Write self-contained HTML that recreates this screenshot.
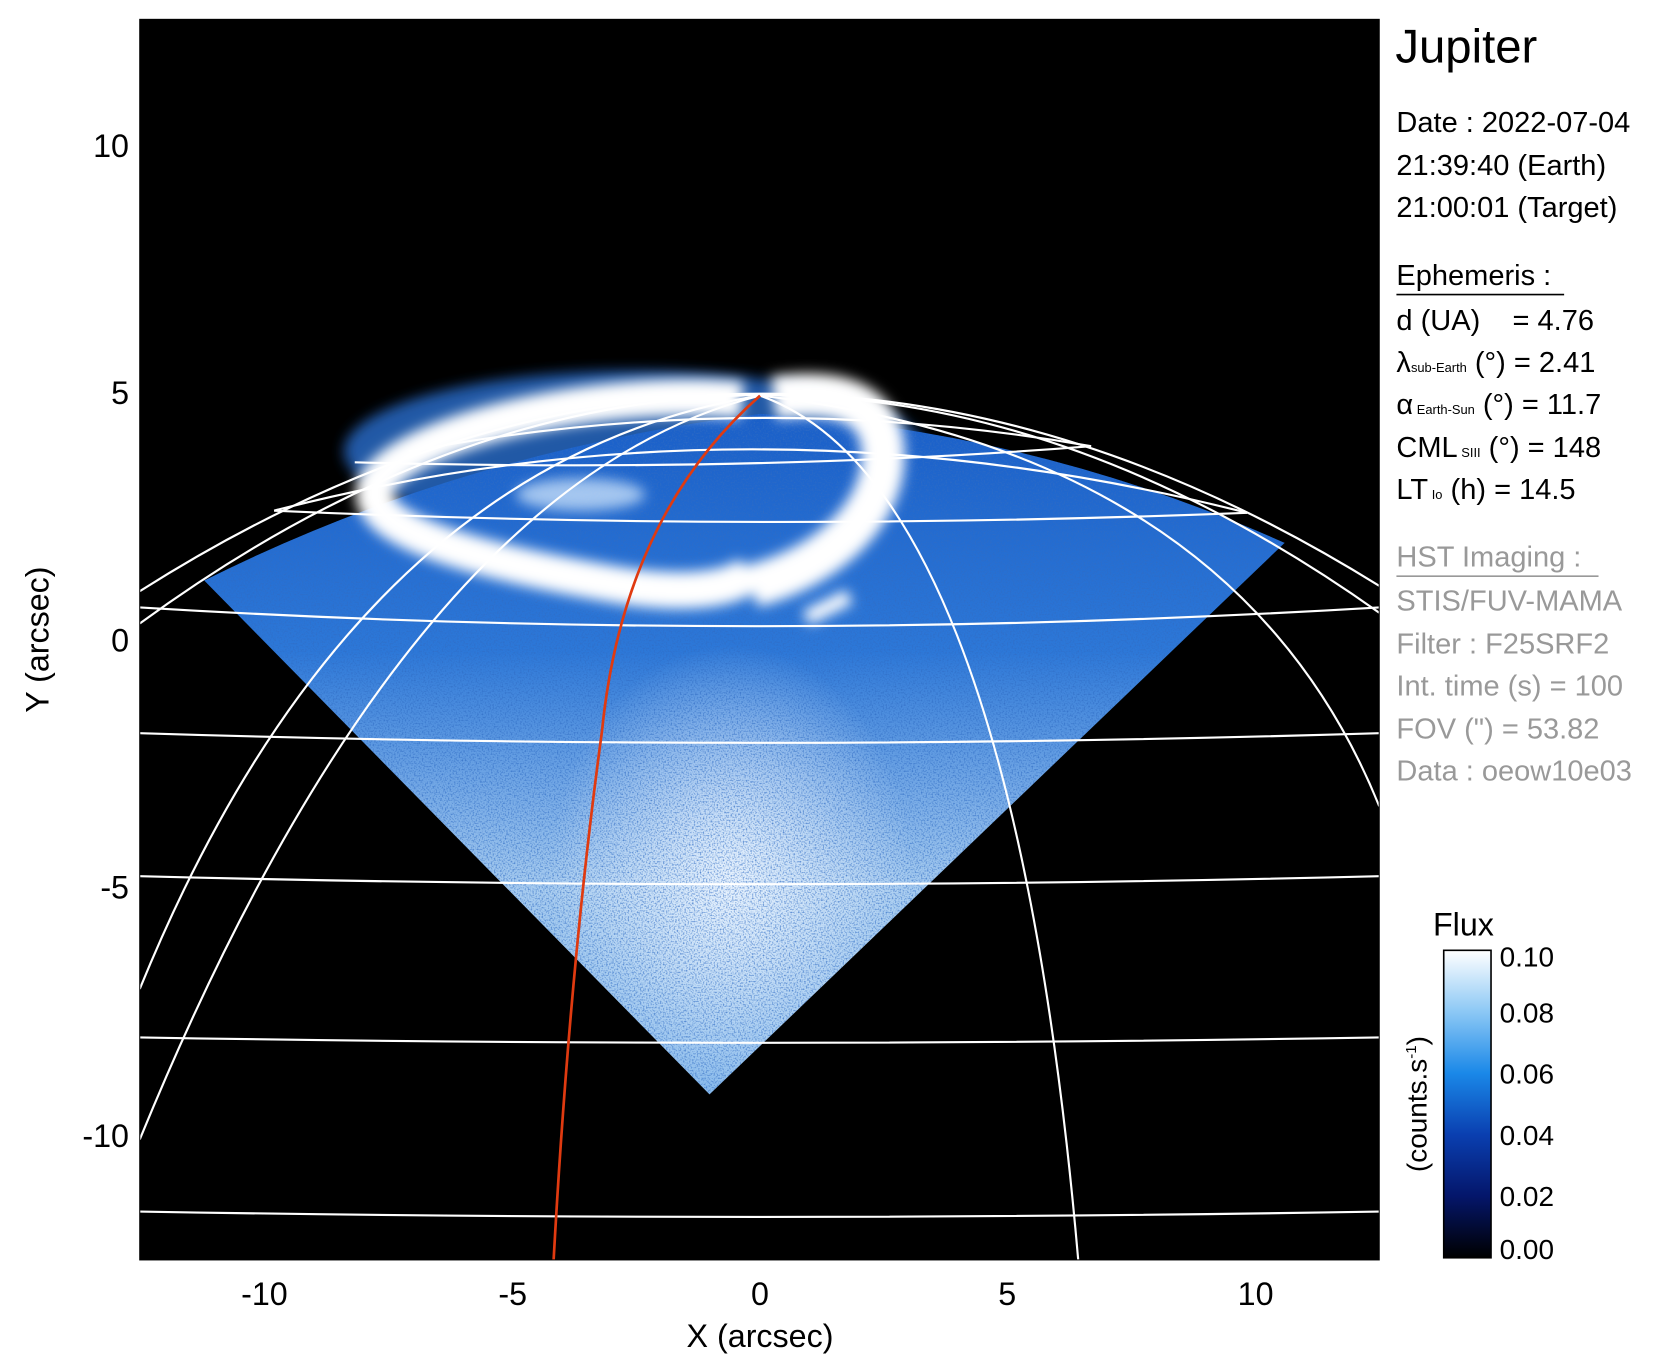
<!DOCTYPE html>
<html><head><meta charset="utf-8"><style>
html,body{margin:0;padding:0;background:#fff;}
svg{display:block;}
text{font-family:"Liberation Sans",Arial,sans-serif;}
</style></head><body>
<svg width="1677" height="1367" viewBox="0 0 1560 1271.6" xmlns="http://www.w3.org/2000/svg">
<defs>
<clipPath id="pc"><rect x="130" y="18" width="1153" height="1154"/></clipPath>
<clipPath id="tc"><path d="M190,540 Q430,420 707,385 Q960,400 1195,505 L660,1018 Z"/></clipPath>
<linearGradient id="tri" x1="0" y1="0" x2="0" y2="1">
<stop offset="0" stop-color="#1a5fc8"/>
<stop offset="0.35" stop-color="#2d78d8"/>
<stop offset="0.7" stop-color="#a9cdf0"/>
<stop offset="1" stop-color="#7fb5ea"/>
</linearGradient>
<radialGradient id="mid" cx="0.5" cy="0.5" r="0.5">
<stop offset="0" stop-color="#eef6ff" stop-opacity="0.9"/>
<stop offset="1" stop-color="#eef6ff" stop-opacity="0"/>
</radialGradient>
<linearGradient id="cb" x1="0" y1="0" x2="0" y2="1">
<stop offset="0" stop-color="#ffffff"/>
<stop offset="0.2" stop-color="#8cc8f5"/>
<stop offset="0.4" stop-color="#1a88e8"/>
<stop offset="0.6" stop-color="#0a3fb0"/>
<stop offset="0.8" stop-color="#04166a"/>
<stop offset="1" stop-color="#000000"/>
</linearGradient>
<filter id="blur" x="-50%" y="-50%" width="200%" height="200%"><feGaussianBlur stdDeviation="6"/></filter>
<filter id="noise" x="0" y="0" width="100%" height="100%">
<feTurbulence type="fractalNoise" baseFrequency="0.7" numOctaves="1" seed="3"/>
<feColorMatrix values="0 0 0 0 0.03  0 0 0 0 0.15  0 0 0 0 0.55  0 0 0 2.5 -1.15"/>
<feComposite in2="SourceGraphic" operator="in"/>
</filter>
</defs>
<rect x="130" y="18" width="1153" height="1154" fill="#000"/>
<g clip-path="url(#pc)">
<ellipse cx="590" cy="420" rx="270" ry="75" fill="#2a6fd0" filter="url(#blur)" opacity="0.8"/>
<path d="M190,540 Q430,420 707,385 Q960,400 1195,505 L660,1018 Z" fill="url(#tri)"/>
<g clip-path="url(#tc)"><ellipse cx="680" cy="820" rx="170" ry="220" fill="url(#mid)"/></g>
<path d="M190,540 Q430,420 707,385 Q960,400 1195,505 L660,1018 Z" fill="#000" filter="url(#noise)" opacity="0.9"/>
<g filter="url(#blur)">
<path d="M690,372 C560,360 380,400 350,450 C330,495 460,525 580,545 C650,555 690,545 700,530" fill="none" stroke="#fff" stroke-width="34"/>
<path d="M720,370 C790,360 830,380 820,440 C810,490 760,530 700,545" fill="none" stroke="#fff" stroke-width="40"/>
<ellipse cx="540" cy="460" rx="60" ry="15" fill="#dbeeff" opacity="0.7"/>
<path d="M750,575 L790,555" stroke="#fff" stroke-width="14"/>
</g>
<g fill="none" stroke="#fff" stroke-width="2">
<path d="M130,550 Q705,185 1283,545"/>
<path d="M130,580 Q705,160 1283,570"/>
<path d="M255,475 Q700,360 1160,477"/>
<path d="M380,420 Q700,360 1015,415"/>
<path d="M255,475 Q700,495 1160,477"/>
<path d="M330,430 Q700,440 1015,415"/>
<path d="M130,565 Q700,600 1283,565"/>
<path d="M130,682 Q700,700 1283,682"/>
<path d="M130,815 Q700,830 1283,815"/>
<path d="M130,965 Q700,975 1283,965"/>
<path d="M130,1127 Q700,1137 1283,1127"/>
<path d="M707,368 Q330,430 130,920"/>
<path d="M707,368 Q380,450 130,1060"/>
<path d="M707,368 Q940,450 1003,1172"/>
<path d="M707,368 Q1150,420 1283,750"/>
</g>
<path d="M707,368 Q580,480 560,680 Q530,900 515,1172" fill="none" stroke="#e03a10" stroke-width="2.5"/>
</g>
<rect x="130" y="18" width="1153" height="1154" fill="none" stroke="#000" stroke-width="1"/>
<g font-size="30" fill="#000">
<g text-anchor="middle">
<text x="246" y="1214">-10</text><text x="477" y="1214">-5</text><text x="707" y="1214">0</text><text x="937" y="1214">5</text><text x="1168" y="1214">10</text>
</g>
<g text-anchor="end">
<text x="120" y="146">10</text><text x="120" y="376">5</text><text x="120" y="606">0</text><text x="120" y="836">-5</text><text x="120" y="1067">-10</text>
</g>
<text x="707" y="1253" text-anchor="middle">X (arcsec)</text>
<text transform="translate(45,595) rotate(-90)" text-anchor="middle">Y (arcsec)</text>
</g>
<text x="1298" y="58" font-size="44">Jupiter</text>
<g font-size="27" fill="#000">
<text x="1299" y="123">Date : 2022-07-04</text>
<text x="1299" y="163">21:39:40 (Earth)</text>
<text x="1299" y="202">21:00:01 (Target)</text>
<text x="1299" y="265">Ephemeris :</text>
<line x1="1299" y1="274" x2="1455" y2="274" stroke="#000" stroke-width="1.5"/>
<text x="1299" y="307" xml:space="preserve">d (UA)    = 4.76</text>
<text x="1299" y="346">λ<tspan font-size="12">sub-Earth</tspan> (°) = 2.41</text>
<text x="1299" y="385">α<tspan font-size="12"> Earth-Sun</tspan> (°) = 11.7</text>
<text x="1299" y="425">CML<tspan font-size="12"> SIII</tspan> (°) = 148</text>
<text x="1299" y="464">LT<tspan font-size="12"> Io</tspan> (h) = 14.5</text>
</g>
<g font-size="27" fill="#999">
<text x="1299" y="527">HST Imaging :</text>
<line x1="1299" y1="536" x2="1487" y2="536" stroke="#999" stroke-width="1.5"/>
<text x="1299" y="568">STIS/FUV-MAMA</text>
<text x="1299" y="608">Filter : F25SRF2</text>
<text x="1299" y="647">Int. time (s) = 100</text>
<text x="1299" y="687">FOV (") = 53.82</text>
<text x="1299" y="726">Data : oeow10e03</text>
</g>
<text x="1333" y="870" font-size="30">Flux</text>
<rect x="1343" y="884" width="44" height="286" fill="url(#cb)" stroke="#000" stroke-width="1.5"/>
<g font-size="26">
<text x="1395" y="899">0.10</text><text x="1395" y="951">0.08</text><text x="1395" y="1008">0.06</text>
<text x="1395" y="1065">0.04</text><text x="1395" y="1122">0.02</text><text x="1395" y="1171">0.00</text>
<text transform="translate(1327,1027) rotate(-90)" text-anchor="middle">(counts.s<tspan font-size="14" dy="-10">-1</tspan><tspan dy="10">)</tspan></text>
</g>
</svg>
</body></html>
